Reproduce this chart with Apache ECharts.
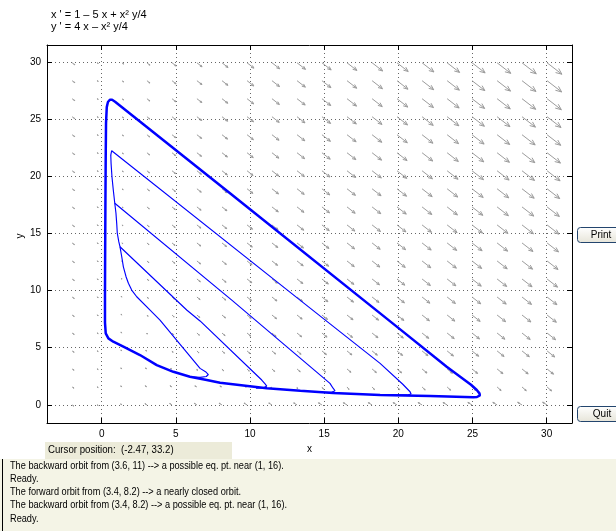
<!DOCTYPE html>
<html>
<head>
<meta charset="utf-8">
<script src="https://cdn.jsdelivr.net/npm/echarts@6/dist/echarts.min.js"></script>
<style>
html, body { margin: 0; padding: 0; background: #fff; }
#main { width: 616px; height: 531px; }
</style>
</head>
<body>
<div id="main"></div>
<script>
// system shown above the plot
const eqLines = ["x ' = 1 \u2013 5 x + x\u00b2 y/4", "y ' = 4 x \u2013 x\u00b2 y/4"]
const xRange = [-3.69, 31.71]
const yRange = [-1.6, 31.55]
const tickStep = 5

// arrow grid (20 x 20)
const arrowX = [-2.0, -0.32, 1.37, 3.05, 4.74, 6.42, 8.11, 9.8, 11.48, 13.17, 14.85, 16.54, 18.23, 19.91, 21.6, 23.29, 24.97, 26.66, 28.34, 30.03]
const arrowY = [-0.02, 1.56, 3.14, 4.72, 6.29, 7.87, 9.45, 11.03, 12.61, 14.19, 15.77, 17.35, 18.94, 20.52, 22.1, 23.68, 25.26, 26.84, 28.42, 29.99]

// thick orbit (nearly closed)
const limitCycle = [[0.22, 7.2], [0.22, 9.5], [0.23, 13], [0.25, 18], [0.27, 22], [0.29, 24.7], [0.34, 26.1], [0.42, 26.55], [0.55, 26.75], [0.7, 26.75], [0.9, 26.58], [8.65, 18.54], [20.23, 6.5], [23.26, 3.33], [24.9, 1.75], [25.29, 1.29], [25.47, 1.0], [25.5, 0.82], [25.3, 0.68], [25.06, 0.65], [22.14, 0.76], [18.77, 0.85], [15.6, 1.04], [13.39, 1.23], [11.13, 1.44], [7.98, 1.93], [7.08, 2.17], [5.95, 2.46], [4.83, 2.89], [3.71, 3.48], [2.58, 4.36], [1.46, 5.09], [0.78, 5.53], [0.45, 5.82], [0.27, 6.26], [0.22, 7.2]]

// thin spiral pieces
const thinLeft = [[0.61, 21.9], [0.63, 21.17], [0.69, 20.0], [0.78, 18.83], [0.88, 17.67], [0.96, 16.79], [1.01, 15.91], [1.05, 15.04], [1.15, 14.3], [1.23, 13.86], [1.35, 12.98], [1.46, 12.1], [1.64, 11.23], [1.8, 10.65], [2.02, 10.06], [2.36, 9.47], [3.26, 8.3], [3.93, 7.43], [5.3, 5.28], [6.63, 3.19], [7.0, 2.9], [7.19, 2.65], [7.05, 2.48], [6.63, 2.4], [6.0, 2.46]]
const thinD1 = [[0.61, 21.9], [0.672, 22.28], [0.8, 22.22], [13.37, 9.18], [18.77, 3.63], [20.3, 1.8], [20.79, 1.14], [20.86, 0.94], [20.6, 0.86], [19.5, 0.86]]
const thinD2 = [[0.88, 17.67], [0.95, 17.72], [8.77, 9.18], [15.39, 1.87], [15.6, 1.45], [15.73, 1.23], [15.5, 1.1], [14.8, 1.1]]
const thinD3 = [[1.23, 13.86], [5.73, 8.31], [6.63, 7.35], [10.79, 2.17], [11.0, 1.85], [11.13, 1.64], [10.9, 1.47], [10.4, 1.45]]

const cursorText = 'Cursor position:  (-2.47, 33.2)'
const messages = [
  'The backward orbit from (3.6, 11) --> a possible eq. pt. near (1, 16).',
  'Ready.',
  'The forward orbit from (3.4, 8.2) --> a nearly closed orbit.',
  'The backward orbit from (3.4, 8.2) --> a possible eq. pt. near (1, 16).',
  'Ready.'
]

const font = '"Liberation Sans", Arial, sans-serif'

function field(x, y) {
  return [1 - 5 * x + x * x * y / 4, 4 * x - x * x * y / 4]
}

const gridPts = []
arrowX.forEach(x => arrowY.forEach(y => gridPts.push([x, y])))

function renderArrow(params, api) {
  const x = api.value(0), y = api.value(1)
  const v = field(x, y)
  const p0 = api.coord([x, y])
  const sz = api.size([1, 1])
  const dx = v[0] * sz[0], dy = -v[1] * sz[1]
  const mag = Math.hypot(dx, dy)
  if (mag === 0) return
  const len = 0.375 * Math.pow(mag, 1 / 3)
  const ux = dx / mag, uy = dy / mag
  const p1 = [p0[0] + ux * len, p0[1] + uy * len]
  const h = Math.max(1, 0.35 * len)
  const a = 0.4
  const c = Math.cos(a), s = Math.sin(a)
  const b1 = [p1[0] - h * (ux * c - uy * s), p1[1] - h * (uy * c + ux * s)]
  const b2 = [p1[0] - h * (ux * c + uy * s), p1[1] - h * (uy * c - ux * s)]
  const st = { stroke: '#9c9c9c', lineWidth: 1, fill: null }
  return {
    type: 'group',
    children: [
      { type: 'line', shape: { x1: p0[0], y1: p0[1], x2: p1[0], y2: p1[1] }, style: st },
      { type: 'polyline', shape: { points: [b1, p1, b2] }, style: st }
    ]
  }
}

function tickLabel(v) {
  const r = Math.round(v / tickStep)
  return Math.abs(v / tickStep - r) < 1e-6 ? String(r * tickStep) : ''
}

const axisCommon = {
  type: 'value',
  splitNumber: 7,
  axisLine: { show: true, onZero: false, lineStyle: { color: '#000', width: 1 } },
  axisTick: { show: true, inside: true, length: 5, lineStyle: { color: '#000' } }
}

function orbit(data, w) {
  return {
    type: 'line', data: data, showSymbol: false, symbol: 'none',
    lineStyle: { color: '#0000ff', width: w }, silent: true, z: 3
  }
}

const option = {
  animation: false,
  backgroundColor: '#fff',
  grid: { left: 47, top: 45, width: 525, height: 378 },
  xAxis: [
    Object.assign({}, axisCommon, {
      min: xRange[0], max: xRange[1], position: 'bottom',
      axisLabel: { formatter: tickLabel, color: '#000', fontSize: 10, fontFamily: font, margin: 6 },
      splitLine: { show: true, lineStyle: { type: [1, 3], color: '#666' } },
      name: 'x', nameLocation: 'middle', nameGap: 18,
      nameTextStyle: { color: '#000', fontSize: 10, fontFamily: font }
    }),
    Object.assign({}, axisCommon, {
      min: xRange[0], max: xRange[1], position: 'top',
      axisLabel: { show: false }, splitLine: { show: false }
    })
  ],
  yAxis: [
    Object.assign({}, axisCommon, {
      min: yRange[0], max: yRange[1], position: 'left',
      axisLabel: { formatter: tickLabel, color: '#000', fontSize: 10, fontFamily: font, margin: 6 },
      splitLine: { show: true, lineStyle: { type: [1, 3], color: '#666' } }
    }),
    Object.assign({}, axisCommon, {
      min: yRange[0], max: yRange[1], position: 'right',
      axisLabel: { show: false }, splitLine: { show: false }
    })
  ],
  series: [
    { type: 'custom', renderItem: renderArrow, data: gridPts, silent: true, clip: true, z: 1 },
    orbit(thinLeft, 1.15),
    orbit(thinD1, 1.15),
    orbit(thinD2, 1.15),
    orbit(thinD3, 1.15),
    orbit(limitCycle, 2.5)
  ],
  graphic: [
    { type: 'text', x: 51, y: 15, style: { text: eqLines[0], font: '11px ' + font, fill: '#000', verticalAlign: 'middle' } },
    { type: 'text', x: 51, y: 27, style: { text: eqLines[1], font: '11px ' + font, fill: '#000', verticalAlign: 'middle' } },
    // y axis name
    { type: 'text', x: 20, y: 236, rotation: Math.PI / 2, style: { text: 'y', font: '10px ' + font, fill: '#000', align: 'center', verticalAlign: 'middle' } },
    // buttons
    { type: 'rect', shape: { x: 577.5, y: 227.5, width: 50, height: 15, r: 3 },
      style: { fill: new echarts.graphic.LinearGradient(0, 0, 0, 1, [{ offset: 0, color: '#ffffff' }, { offset: 1, color: '#e6e4d8' }]), stroke: '#23456e', lineWidth: 1 } },
    { type: 'text', x: 601, y: 235, style: { text: 'Print', font: '10px ' + font, fill: '#000', align: 'center', verticalAlign: 'middle' } },
    { type: 'rect', shape: { x: 577.5, y: 406.5, width: 50, height: 15, r: 3 },
      style: { fill: new echarts.graphic.LinearGradient(0, 0, 0, 1, [{ offset: 0, color: '#ffffff' }, { offset: 1, color: '#e6e4d8' }]), stroke: '#23456e', lineWidth: 1 } },
    { type: 'text', x: 602, y: 414, style: { text: 'Quit', font: '10px ' + font, fill: '#000', align: 'center', verticalAlign: 'middle' } },
    // cursor box
    { type: 'rect', shape: { x: 45, y: 442, width: 187, height: 17 }, style: { fill: '#ecebd9', stroke: null } },
    { type: 'text', x: 48, y: 450, scaleX: 0.92, style: { text: cursorText, font: '10.5px ' + font, fill: '#000', verticalAlign: 'middle' } },
    // message area
    { type: 'rect', shape: { x: 0, y: 459, width: 616, height: 72 }, style: { fill: '#f4f4e6', stroke: null } },
    { type: 'line', shape: { x1: 2.5, y1: 459, x2: 2.5, y2: 531 }, style: { stroke: '#000', lineWidth: 1 } }
  ].concat(messages.map((m, i) => ({
    type: 'text', x: 10, y: 466 + i * 13.2, scaleX: 0.875,
    style: { text: m, font: '10.5px ' + font, fill: '#000', verticalAlign: 'middle' }
  })))
}

const chart = echarts.init(document.getElementById('main'))
chart.setOption(option)
</script>
</body>
</html>
